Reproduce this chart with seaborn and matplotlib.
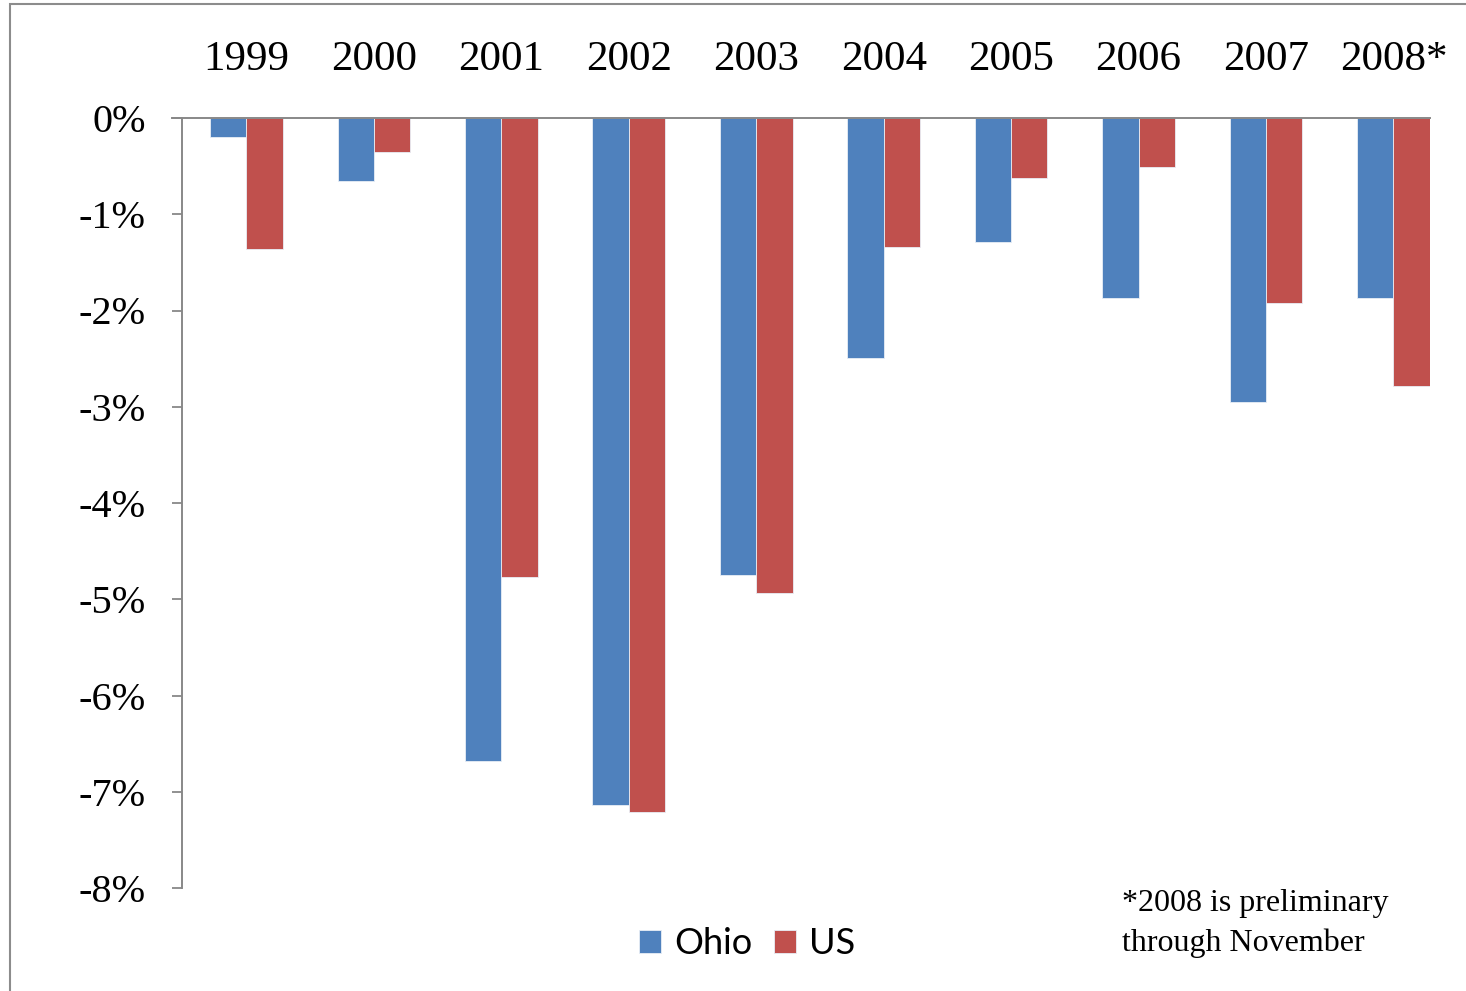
import numpy as np
import pandas as pd
import matplotlib.pyplot as plt
import seaborn as sns
from matplotlib.patches import Rectangle

years = ['1999', '2000', '2001', '2002', '2003', '2004', '2005', '2006', '2007', '2008*']
ohio = [-0.20, -0.65, -6.68, -7.14, -4.75, -2.49, -1.29, -1.87, -2.95, -1.87]
us = [-1.36, -0.35, -4.77, -7.21, -4.94, -1.34, -0.62, -0.51, -1.92, -2.78]
y_ticks = [0, -1, -2, -3, -4, -5, -6, -7, -8]
y_labels = ['0%', '-1%', '-2%', '-3%', '-4%', '-5%', '-6%', '-7%', '-8%']

df = pd.DataFrame({
    'Year': years * 2,
    'Change': ohio + us,
    'Region': ['Ohio'] * len(years) + ['US'] * len(years),
})

W, H = 1466, 991
fig = plt.figure(figsize=(W / 100, H / 100), dpi=100)
sns.set_style('white')
plt.rcParams['font.family'] = ['Liberation Serif', 'DejaVu Serif']
plt.rcParams['text.color'] = 'black'

ax = fig.add_axes([182 / W, (H - 888) / H, (1430 - 182) / W, (888 - 118) / H])
sns.barplot(
    data=df, x='Year', y='Change', hue='Region',
    palette={'Ohio': '#4F81BD', 'US': '#C0504D'}, saturation=1,
    width=0.57, edgecolor='#e8eef6', linewidth=0.6, ax=ax,
)

ax.set_xlim(-0.506, len(years) - 1 + 0.287)
ax.set_ylim(-8, 0)
ax.set_xlabel('')
ax.set_ylabel('')

# years across the top, no tick marks
ax.xaxis.tick_top()
ax.tick_params(axis='x', length=0, pad=28, labelsize=31, labelcolor='black')
ax.set_xticks(range(len(years)))
ax.set_xticklabels(years)

ax.set_yticks(y_ticks)
ax.set_yticklabels(y_labels)
ax.tick_params(axis='y', direction='out', length=7, width=1.3, color='#888888',
               pad=19, labelsize=29, labelcolor='black', left=True)

for side in ['bottom', 'right']:
    ax.spines[side].set_visible(False)
for side in ['top', 'left']:
    ax.spines[side].set_color('#888888')
    ax.spines[side].set_linewidth(1.4)
ax.spines['top'].set_bounds(-0.585, len(years) - 1 + 0.287)

# legend at the bottom
handles, labels = ax.get_legend_handles_labels()
ax.legend(handles, labels, ncol=2, loc='center',
          bbox_to_anchor=(747 / W, (H - 944) / H), bbox_transform=fig.transFigure,
          frameon=False, prop={'family': 'Lato', 'size': 26},
          handlelength=0.62, handleheight=0.62, handletextpad=0.35, columnspacing=0.6)

fig.text(1122 / W, (H - 904) / H, '*2008 is preliminary', fontsize=23,
         ha='left', va='center', color='black')
fig.text(1122 / W, (H - 943) / H, 'through November', fontsize=23,
         ha='left', va='center', color='black')

# outer chart border (cut off at right and bottom)
fig.patches.append(Rectangle((10 / W, -0.1), 1.2, (H - 4) / H + 0.1,
                             transform=fig.transFigure, fill=False,
                             edgecolor='#8c8c8c', linewidth=1.5))

fig.savefig('out.png', dpi=100)
